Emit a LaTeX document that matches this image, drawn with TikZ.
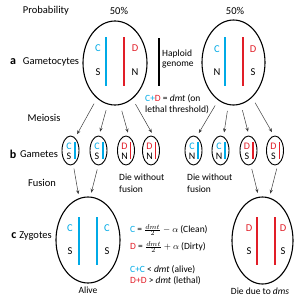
\documentclass[tikz,border=0pt]{standalone}
\usepackage{fontspec}
\setmainfont{Carlito}
\usepackage{tikz}
\usetikzlibrary{arrows.meta, shapes.geometric, calc}
\definecolor{cleanblue}{RGB}{0,170,230}
\definecolor{dirtyred}{RGB}{225,30,40}
\definecolor{arrowgray}{RGB}{60,60,60}
\tikzset{
    cell/.style ={draw=black, ellipse, line width=1.1pt, inner sep=0pt, fill=white},
    gam/.style  ={cell, line width=0.9pt, minimum width=17pt, minimum height=29pt},
    chrom/.style={line width=1.4pt},
    lbl/.style  ={font=\fontsize{10.5}{12}\selectfont, inner sep=0pt},
    gtx/.style  ={font=\fontsize{10}{11}\selectfont, inner sep=0pt},
    sml/.style  ={font=\fontsize{9.5}{10.5}\selectfont, inner sep=0pt, align=left},
    tag/.style  ={font=\fontsize{12}{14}\selectfont\bfseries, inner sep=0pt},
    ar/.style   ={-{Stealth[length=4pt, width=3.2pt]}, line width=0.5pt, draw=arrowgray,
                  shorten <=6pt, shorten >=4pt},
    fus/.style  ={ar, shorten <=4pt}
}
\newcommand{\cln}[1]{\textcolor{cleanblue}{#1}}
\newcommand{\drt}[1]{\textcolor{dirtyred}{#1}}

\begin{document}
\begin{tikzpicture}[x=1pt, y=-1pt]
  \useasboundingbox (0,0) rectangle (300,308);

  % row a: gametocytes
  \node[lbl] (prob) at (46,11)  {Probability};
  \node[lbl] (pL)   at (119,11) {50\%};
  \node[lbl] (pR)   at (235,11) {50\%};
  \node[tag] (ta)   at (13,62)  {a};
  \node[lbl] (tcyt) at (51,62)  {Gametocytes};

  \node[cell, minimum width=64pt, minimum height=84pt] (gL) at (115,63) {};
  \draw[chrom, cleanblue] (106,37) -- (106,86);
  \draw[chrom, dirtyred]  (124,37) -- (124,86);
  \node[lbl, text=cleanblue] (gLc) at (98,48)  {C};
  \node[lbl]                 (gLs) at (98,72)  {S};
  \node[lbl, text=dirtyred]  (gLd) at (135,48) {D};
  \node[lbl]                 (gLn) at (135,72) {N};

  \node[cell, minimum width=63pt, minimum height=85pt] (gR) at (233.5,62.5) {};
  \draw[chrom, cleanblue] (225,37) -- (225,86);
  \draw[chrom, dirtyred]  (243,37) -- (243,86);
  \node[lbl, text=cleanblue] (gRc) at (217,49) {C};
  \node[lbl]                 (gRn) at (217,72) {N};
  \node[lbl, text=dirtyred]  (gRd) at (253,49) {D};
  \node[lbl]                 (gRs) at (253,72) {S};

  \draw[chrom, black] (159,38) -- (159,86);
  \node[sml, anchor=west] (hap) at (162,59) {Haploid\\genome};
  \node[sml, anchor=west] (thr) at (145,104)
        {\cln{C+}\drt{D} = \textit{dmt} (on\\lethal threshold)};

  % row b: gametes
  \node[lbl] (tmei) at (44,118) {Meiosis};
  \node[tag] (tb)   at (13,154) {b};
  \node[lbl] (tgam) at (39,154) {Gametes};
  \foreach \nm/\gx/\ltr/\gen/\col in {b1/70.5/C/S/cleanblue, b2/98.5/C/S/cleanblue,
      b3/126/D/N/dirtyred, b4/151/D/N/dirtyred, b5/193.5/C/N/cleanblue,
      b6/220.5/C/N/cleanblue, b7/248.5/D/S/dirtyred, b8/275/D/S/dirtyred}{
    \node[gam] (\nm) at (\gx,150.5) {};
    \node[gtx, text=\col] at (\gx-1.5,146) {\ltr};
    \node[gtx] at (\gx-1.5,156) {\gen};
    \draw[chrom, \col, line width=1.2pt] (\gx+4.5,142) -- (\gx+4.5,159);
  }

  \draw[ar] (gL.243) -- (b1.70);
  \draw[ar] (gL.260) -- (b2.88);
  \draw[ar] (gL.277) -- (b3.78);
  \draw[ar] (gL.296) -- (b4.79);
  \draw[ar] (gR.248) -- (b5.77);
  \draw[ar] (gR.263) -- (b6.78);
  \draw[ar] (gR.280) -- (b7.88);
  \draw[ar] (gR.298) -- (b8.94);

  \node[sml, anchor=west] (dwL) at (119,183) {Die without\\[1.5pt]fusion};
  \node[sml, anchor=west] (dwR) at (187,183) {Die without\\[1.5pt]fusion};
  \node[lbl] (tfus) at (42,183) {Fusion};

  % row c: zygotes
  \node[tag] (tc)   at (14,236)   {c};
  \node[lbl] (tzyg) at (35.5,236) {Zygotes};

  \node[cell, minimum width=64pt, minimum height=86pt] (zL) at (88,240) {};
  \draw[chrom, cleanblue] (79,217) -- (79,265);
  \draw[chrom, cleanblue] (97,217) -- (97,265);
  \node[lbl, text=cleanblue] (zLc1) at (70,228)  {C};
  \node[lbl]                 (zLs1) at (70,251)  {S};
  \node[lbl, text=cleanblue] (zLc2) at (107,228) {C};
  \node[lbl]                 (zLs2) at (107,251) {S};
  \node[sml] (alive) at (88,290) {Alive};

  \node[cell, minimum width=61pt, minimum height=87pt] (zR) at (262.5,240.5) {};
  \draw[chrom, dirtyred] (257,217) -- (257,265);
  \draw[chrom, dirtyred] (275,217) -- (275,265);
  \node[lbl, text=dirtyred] (zRd1) at (249,228) {D};
  \node[lbl]                (zRs1) at (249,251) {S};
  \node[lbl, text=dirtyred] (zRd2) at (283,228) {D};
  \node[lbl]                (zRs2) at (283,251) {S};
  \node[sml] (lethal) at (260,291) {Die due to \textit{dms}};

  \draw[fus] (b1.281) -- (zL.102);
  \draw[fus] (b2.269) -- (zL.87);
  \draw[fus] (b7.279) -- (zR.95);
  \draw[fus] (b8.281) -- (zR.81);

  \node[sml, anchor=west] (fc) at (130,230) {\cln{C} = $\frac{dmt}{2}-\alpha$ (Clean)};
  \node[sml, anchor=west] (fd) at (130,247) {\drt{D} = $\frac{dmt}{2}+\alpha$ (Dirty)};
  \node[sml, anchor=west] (fa) at (130,270) {\cln{C+C} < \textit{dmt} (alive)};
  \node[sml, anchor=west] (fl) at (130,281) {\drt{D+D} > \textit{dmt} (lethal)};
\end{tikzpicture}
\end{document}
